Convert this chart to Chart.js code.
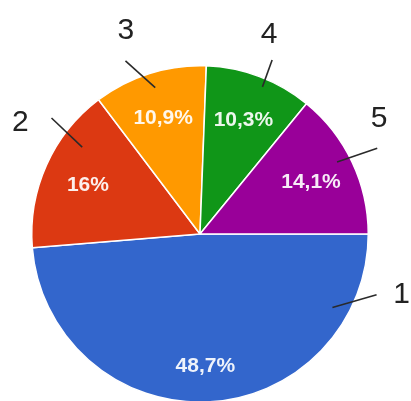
<!DOCTYPE html>
<html>
<head>
<meta charset="utf-8">
<script src="https://cdn.jsdelivr.net/npm/chart.js@4/dist/chart.umd.min.js"></script>
<style>
  html, body { margin: 0; padding: 0; background: #fff; overflow: hidden; }
  #wrap { position: relative; width: 411px; height: 403px; }
</style>
</head>
<body>
<div id="wrap"><canvas id="pie"></canvas></div>
<script>
/* --- Data --- */
var CATEGORIES = ["1", "2", "3", "4", "5"];
var SHARES = [48.7, 16, 10.9, 10.3, 14.1];
var COLORS = ["#3366CC", "#DC3912", "#FF9900", "#109618", "#990099"];

/* leader lines: angles in degrees clockwise from east, radii as fraction of r */
var LEADERS = [
  { a1: 29, r1: 0.90, a2: 19, r2: 1.11, al: 16.5, rl: 1.25 },
  { a1: 216.4, r1: 0.87, a2: 218, r2: 1.12, al: 212, rl: 1.26 },
  { a1: 253, r1: 0.91, a2: 246.7, r2: 1.12, al: 250, rl: 1.29 },
  { a1: 293, r1: 0.95, a2: 292.5, r2: 1.12, al: 289, rl: 1.26 },
  { a1: 332.3, r1: 0.92, a2: 334.2, r2: 1.17, al: 327, rl: 1.27 }
];

function pct(v) {
  return String(v).replace(".", ",") + "%";
}

var labelPlugin = {
  id: "sliceLabels",
  afterDatasetsDraw: function (chart) {
    var ctx = chart.ctx;
    var arcs = chart.getDatasetMeta(0).data;
    ctx.save();
    ctx.textAlign = "center";
    ctx.textBaseline = "middle";
    arcs.forEach(function (arc, i) {
      var cx = arc.x, cy = arc.y, r = arc.outerRadius;
      var mid = (arc.startAngle + arc.endAngle) / 2;
      var k = i === 0 ? 0.78 : 0.73;
      ctx.fillStyle = "rgba(255,255,255,0.92)";
      ctx.font = "bold 21px 'Liberation Sans', Arial, sans-serif";
      ctx.fillText(pct(SHARES[i]), cx + Math.cos(mid) * r * k, cy + Math.sin(mid) * r * k + 1);

      var L = LEADERS[i];
      var d = Math.PI / 180;
      ctx.strokeStyle = "#2a2a2a";
      ctx.lineWidth = 1.6;
      ctx.beginPath();
      ctx.moveTo(cx + Math.cos(L.a1 * d) * r * L.r1, cy + Math.sin(L.a1 * d) * r * L.r1);
      ctx.lineTo(cx + Math.cos(L.a2 * d) * r * L.r2, cy + Math.sin(L.a2 * d) * r * L.r2);
      ctx.stroke();

      ctx.fillStyle = "#222";
      ctx.font = "30px 'Liberation Sans', Arial, sans-serif";
      ctx.fillText(CATEGORIES[i], cx + Math.cos(L.al * d) * r * L.rl, cy + Math.sin(L.al * d) * r * L.rl + 1);
    });
    ctx.restore();
  }
};

new Chart(document.getElementById("pie"), {
  type: "pie",
  data: {
    labels: CATEGORIES,
    datasets: [{
      data: SHARES,
      backgroundColor: COLORS,
      borderColor: "#ffffff",
      borderWidth: 1.5
    }]
  },
  options: {
    responsive: true,
    maintainAspectRatio: false,
    animation: false,
    rotation: 90,
    layout: { padding: { left: 31, right: 42, top: 65, bottom: 0 } },
    plugins: {
      legend: { display: false },
      tooltip: { enabled: false }
    }
  },
  plugins: [labelPlugin]
});
</script>
</body>
</html>
